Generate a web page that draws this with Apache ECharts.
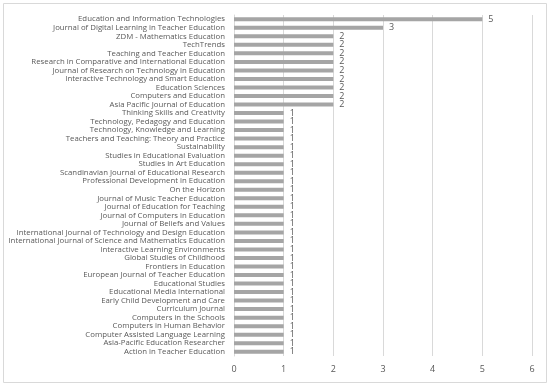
<!DOCTYPE html>
<html><head><meta charset="utf-8">
<script src="https://cdn.jsdelivr.net/npm/echarts@6/dist/echarts.min.js"></script>
<style>html,body{margin:0;padding:0;background:#fff}#c{width:550px;height:386px}</style>
</head><body><div id="c"></div>
<script>
const categories = [
"Education and Information Technologies",
"Journal of Digital Learning in Teacher Education",
"ZDM - Mathematics Education",
"TechTrends",
"Teaching and Teacher Education",
"Research in Comparative and International Education",
"Journal of Research on Technology in Education",
"Interactive Technology and Smart Education",
"Education Sciences",
"Computers and Education",
"Asia Pacific Journal of Education",
"Thinking Skills and Creativity",
"Technology, Pedagogy and Education",
"Technology, Knowledge and Learning",
"Teachers and Teaching: Theory and Practice",
"Sustainability",
"Studies in Educational Evaluation",
"Studies in Art Education",
"Scandinavian Journal of Educational Research",
"Professional Development in Education",
"On the Horizon",
"Journal of Music Teacher Education",
"Journal of Education for Teaching",
"Journal of Computers in Education",
"Journal of Beliefs and Values",
"International Journal of Technology and Design Education",
"International Journal of Science and Mathematics Education",
"Interactive Learning Environments",
"Global Studies of Childhood",
"Frontiers in Education",
"European Journal of Teacher Education",
"Educational Studies",
"Educational Media International",
"Early Child Development and Care",
"Curriculum Journal",
"Computers in the Schools",
"Computers in Human Behavior",
"Computer Assisted Language Learning",
"Asia-Pacific Education Researcher",
"Action in Teacher Education"
];
const values = [5,3,2,2,2,2,2,2,2,2,2,1,1,1,1,1,1,1,1,1,1,1,1,1,1,1,1,1,1,1,1,1,1,1,1,1,1,1,1,1];
const xTicks = [0,1,2,3,4,5,6];

const chart = echarts.init(document.getElementById('c'), null, {renderer:'canvas'});
const font = "'Open Sans', sans-serif";
chart.setOption({
  animation:false,
  grid:{left:234, right:18, top:15, bottom:30, containLabel:false, outerBoundsMode:'none'},
  graphic:[{type:'rect', shape:{x:3.5,y:3.5,width:543,height:379}, style:{fill:'none', stroke:'#d9d9d9', lineWidth:1}}],
  xAxis:{type:'value', min:xTicks[0], max:xTicks[xTicks.length-1], interval:1,
    axisLine:{show:false}, axisTick:{show:false},
    splitLine:{lineStyle:{color:'#d9d9d9', width:1}},
    axisLabel:{color:'#595959', fontFamily:font, fontSize:9, margin:9}},
  yAxis:{type:'category', inverse:true, data:categories,
    axisLine:{lineStyle:{color:'#d9d9d9'}}, axisTick:{show:false},
    axisLabel:{color:'#595959', fontFamily:font, fontSize:7.8, margin:9, interval:0}},
  series:[{type:'bar', data:values, barWidth:4,
    itemStyle:{color:'#a5a5a5'},
    label:{show:true, position:'right', distance:6, color:'#595959', fontFamily:font, fontSize:9}}]
});
</script></body></html>
